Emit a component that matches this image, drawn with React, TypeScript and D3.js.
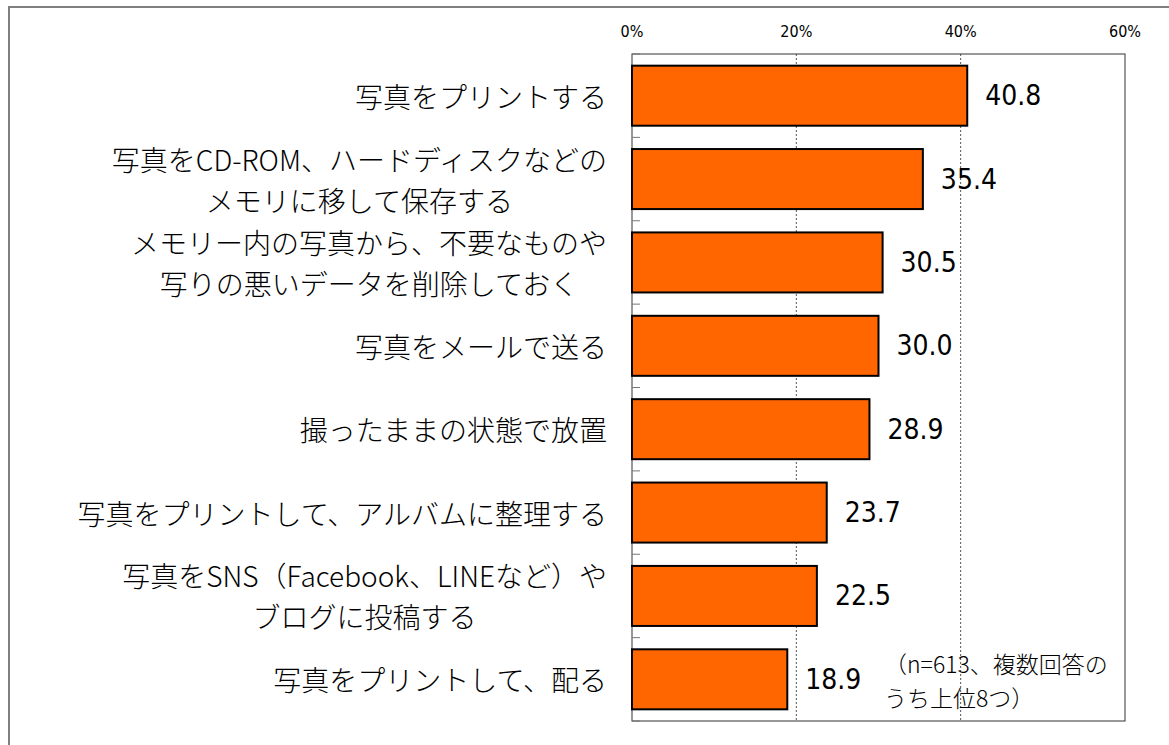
import React, { useEffect, useRef } from "react";
import * as d3 from "d3";

const categories: string[][] = [
  ["写真をプリントする"],
  ["写真をCD-ROM、ハードディスクなどの", "メモリに移して保存する"],
  ["メモリー内の写真から、不要なものや", "写りの悪いデータを削除しておく"],
  ["写真をメールで送る"],
  ["撮ったままの状態で放置"],
  ["写真をプリントして、アルバムに整理する"],
  ["写真をSNS（Facebook、LINEなど）や", "ブログに投稿する"],
  ["写真をプリントして、配る"],
];
const values: number[] = [40.8, 35.4, 30.5, 30.0, 28.9, 23.7, 22.5, 18.9];
const tickValues: number[] = [0, 20, 40, 60];
const noteLines: string[] = ["（n=613、複数回答の", "うち上位8つ）"];

const W = 1169;
const H = 745;
const plot = { left: 632, right: 1125, top: 54, bottom: 721 };
const JP = "'Noto Sans CJK JP', sans-serif";
const NUM = "'Liberation Sans Narrow', 'DejaVu Sans Condensed', 'Liberation Sans', sans-serif";

export default function App() {
  const ref = useRef<SVGSVGElement | null>(null);

  useEffect(() => {
    const svg = d3.select(ref.current);
    svg.selectAll("*").remove();

    const x = d3.scaleLinear().domain([0, 60]).range([plot.left, plot.right]);
    const y = d3
      .scaleBand<number>()
      .domain(d3.range(categories.length))
      .range([plot.top, plot.bottom])
      .paddingInner(0.28)
      .paddingOuter(0.14);
    const step = y.step();

    svg.append("rect").attr("width", W).attr("height", H).attr("fill", "#fff");

    // outer frame
    svg
      .append("rect")
      .attr("x", 9)
      .attr("y", 7)
      .attr("width", W + 20)
      .attr("height", H + 20)
      .attr("fill", "none")
      .attr("stroke", "#7f7f7f")
      .attr("stroke-width", 2);

    // gridlines
    svg
      .append("g")
      .selectAll("line")
      .data(tickValues.filter((t) => t > 0 && t < 60))
      .join("line")
      .attr("x1", (d) => x(d))
      .attr("x2", (d) => x(d))
      .attr("y1", plot.top)
      .attr("y2", plot.bottom)
      .attr("stroke", "#555")
      .attr("stroke-width", 1)
      .attr("stroke-dasharray", "2,2");

    // plot border
    svg
      .append("rect")
      .attr("x", plot.left)
      .attr("y", plot.top)
      .attr("width", plot.right - plot.left)
      .attr("height", plot.bottom - plot.top)
      .attr("fill", "none")
      .attr("stroke", "#333")
      .attr("stroke-width", 1);

    // category boundary ticks on left axis
    svg
      .append("g")
      .selectAll("line")
      .data(d3.range(categories.length + 1))
      .join("line")
      .attr("x1", plot.left)
      .attr("x2", plot.left + 8)
      .attr("y1", (i) => plot.top + i * step)
      .attr("y2", (i) => plot.top + i * step)
      .attr("stroke", "#777")
      .attr("stroke-width", 1);

    // top axis labels
    svg
      .append("g")
      .selectAll("text")
      .data(tickValues)
      .join("text")
      .attr("x", (d) => x(d))
      .attr("y", 31)
      .attr("text-anchor", "middle")
      .attr("dominant-baseline", "central")
      .attr("font-family", NUM)
      .attr("font-size", 16)
      .attr("fill", "#000")
      .text((d) => `${d}%`);

    // bars
    svg
      .append("g")
      .selectAll("rect")
      .data(values)
      .join("rect")
      .attr("x", x(0))
      .attr("y", (_, i) => y(i)!)
      .attr("width", (d) => x(d) - x(0))
      .attr("height", y.bandwidth())
      .attr("fill", "#FF6600")
      .attr("stroke", "#000")
      .attr("stroke-width", 2);

    // value labels
    svg
      .append("g")
      .selectAll("text")
      .data(values)
      .join("text")
      .attr("x", (d) => x(d) + 18)
      .attr("y", (_, i) => y(i)! + y.bandwidth() / 2)
      .attr("dominant-baseline", "central")
      .attr("font-family", NUM)
      .attr("font-size", 28)
      .attr("fill", "#000")
      .text((d) => d.toFixed(1));

    // category labels
    const labelRight = 607;
    const lineGap = 41;
    categories.forEach((lines, i) => {
      const cy = y(i)! + y.bandwidth() / 2;
      const texts = lines.map((ln, j) =>
        svg
          .append("text")
          .attr("y", cy + (j - (lines.length - 1) / 2) * lineGap)
          .attr("text-anchor", "middle")
          .attr("dominant-baseline", "central")
          .attr("font-family", JP)
          .attr("font-weight", 300)
          .attr("font-size", 28)
          .attr("fill", "#000")
          .text(ln)
      );
      const widths = texts.map((s) => (s.node() as SVGTextElement).getComputedTextLength());
      const maxW = Math.max(...widths);
      const cx = labelRight - maxW / 2;
      texts.forEach((s) => s.attr("x", cx));
    });

    // note
    svg
      .append("g")
      .selectAll("text")
      .data(noteLines)
      .join("text")
      .attr("x", 884)
      .attr("y", (_, i) => 663 + i * 34)
      .attr("dominant-baseline", "central")
      .attr("font-family", JP)
      .attr("font-weight", 300)
      .attr("font-size", 23)
      .attr("fill", "#000")
      .text((d) => d);
  }, []);

  return (
    <svg
      ref={ref}
      width={W}
      height={H}
      style={{ position: "absolute", left: 0, top: 0, display: "block" }}
    />
  );
}
